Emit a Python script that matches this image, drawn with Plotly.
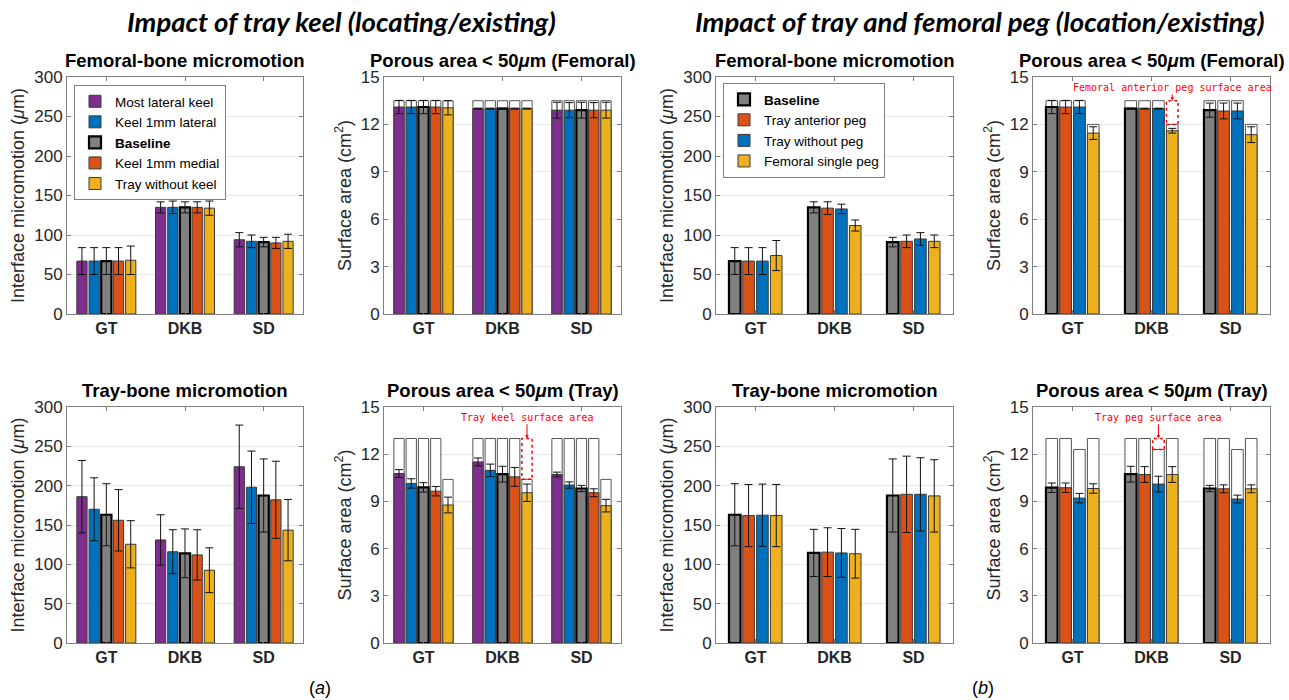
import plotly.graph_objects as go

# ---------------- data ----------------
categories = ["GT", "DKB", "SD"]

keel_names = ["Most lateral keel", "Keel 1mm lateral", "Baseline", "Keel 1mm medial", "Tray without keel"]
peg_names = ["Baseline", "Tray anterior peg", "Tray without peg", "Femoral single peg"]

# (a) tray keel - femoral-bone micromotion (um), one list per series over categories
keel_fem_micro = [[67, 135, 94], [67, 135, 92], [67, 135, 91], [67, 135, 90], [68, 134, 92]]
keel_fem_micro_err = [[17, 7, 9], [17, 8, 8], [17, 7, 6], [17, 7, 7], [18, 9, 9]]
# (a) porous area < 50um femoral (cm2)
keel_fem_area = [[13.1, 13.0, 12.9], [13.1, 13.0, 12.9], [13.1, 13.0, 12.9], [13.1, 13.0, 12.9], [13.05, 13.0, 12.9]]
keel_fem_area_err = [[0.42, 0.03, 0.5], [0.42, 0.03, 0.48], [0.42, 0.03, 0.5], [0.42, 0.03, 0.48], [0.45, 0.03, 0.5]]
keel_fem_total = [13.5, 13.5, 13.5, 13.5, 13.5]
# (a) tray-bone micromotion
keel_tray_micro = [[186, 131, 224], [170, 116, 198], [163, 114, 187.5], [156, 112, 182], [125.5, 92.5, 143.5]]
keel_tray_micro_err = [[46, 32, 53], [40, 28, 46], [39.5, 31, 46.5], [39, 32, 49], [30, 28.5, 39]]
# (a) porous area tray
keel_tray_area = [[10.77, 11.51, 10.71], [10.14, 10.97, 10.04], [9.89, 10.73, 9.82], [9.65, 10.56, 9.55], [8.77, 9.55, 8.73]]
keel_tray_area_err = [[0.25, 0.25, 0.15], [0.3, 0.4, 0.2], [0.3, 0.5, 0.2], [0.3, 0.6, 0.25], [0.5, 0.55, 0.4]]
keel_tray_total = [13.0, 13.0, 13.0, 13.0, 10.4]

# (b) pegs - femoral-bone micromotion
peg_fem_micro = [[67, 135, 91], [67, 134, 92], [67, 133, 95], [74, 112, 92]]
peg_fem_micro_err = [[17, 7, 6], [17, 8, 8], [17, 6, 8], [19, 7, 8]]
peg_fem_area = [[13.1, 13.0, 12.9], [13.1, 13.0, 12.85], [13.1, 13.0, 12.85], [11.45, 11.6, 11.35]]
peg_fem_area_err = [[0.42, 0.03, 0.45], [0.42, 0.03, 0.5], [0.42, 0.03, 0.5], [0.4, 0.15, 0.5]]
peg_fem_total = [13.5, 13.5, 13.5, 12.0]
peg_tray_micro = [[163, 114.5, 187.5], [162, 115.5, 189], [162.5, 114.5, 189], [162, 113.5, 187]]
peg_tray_micro_err = [[39.5, 30, 46.5], [39.5, 31, 48.5], [39.5, 31, 46.5], [39.5, 31, 46]]
peg_tray_area = [[9.87, 10.73, 9.82], [9.87, 10.71, 9.8], [9.21, 10.1, 9.15], [9.82, 10.71, 9.8]]
peg_tray_area_err = [[0.3, 0.5, 0.2], [0.3, 0.5, 0.25], [0.3, 0.5, 0.25], [0.3, 0.5, 0.25]]
peg_tray_total = [13.0, 13.0, 12.3, 13.0]

# ---------------- style ----------------
W, H = 1289, 700
FONT = "Liberation Sans"
PURPLE, BLUE, GRAY, ORANGE, YELLOW = "#7E2F8E", "#0072BD", "#808080", "#D95319", "#EDB120"
keel_colors = [PURPLE, BLUE, GRAY, ORANGE, YELLOW]
peg_colors = [GRAY, ORANGE, BLUE, YELLOW]
EDGE = "#3a3a3a"
AXC = "#808080"
TXT = "#262626"
BAR_FRAC = 0.84
SLOT5, SLOT4 = 0.155, 0.175

col_px = [(67, 303), (384, 621), (716, 953), (1033, 1270)]
row_px = [(77, 314), (407, 643)]

fig = go.Figure()


def ax_names(k):
    return ("x" if k == 1 else f"x{k}"), ("y" if k == 1 else f"y{k}")


def add_panel(k, names, colors, vals, errs, totals, slot, legend_name=None):
    n = len(names)
    bw = slot * BAR_FRAC
    xa, ya = ax_names(k)
    for i in range(n):
        off = (i - (n - 1) / 2) * slot - bw / 2
        base = names[i] == "Baseline"
        if totals is not None:
            fig.add_trace(go.Bar(
                x=categories, y=[totals[i]] * len(categories), width=bw, offset=off,
                marker=dict(color="white", opacity=1, line=dict(color="#555555", width=1)),
                xaxis=xa, yaxis=ya, showlegend=False, hoverinfo="skip"))
        fig.add_trace(go.Bar(
            x=categories, y=vals[i], width=bw, offset=off,
            error_y=dict(type="data", array=errs[i], color="#111111", thickness=1, width=4),
            marker=dict(color=colors[i], opacity=1,
                        line=dict(color="#000000" if base else EDGE, width=2.2 if base else 1)),
            name="<b>Baseline</b>" if base else names[i],
            showlegend=legend_name is not None,
            legend=legend_name if legend_name else "legend",
            xaxis=xa, yaxis=ya))


def add_missing(k, totals, slot, label, cat="DKB"):
    n = len(totals)
    bw = slot * BAR_FRAC
    xa, ya = ax_names(k)
    i = min(range(n), key=lambda j: totals[j])
    ci = categories.index(cat)
    xc = ci + (i - (n - 1) / 2) * slot
    top = max(totals)
    fig.add_shape(type="rect", xref=xa, yref=ya, x0=xc - bw / 2, x1=xc + bw / 2,
                  y0=totals[i], y1=top, line=dict(color="red", dash="dot", width=1.5))
    fig.add_annotation(x=xc, y=top, xref=xa, yref=ya, ax=xc, ay=14.35, axref=xa, ayref=ya,
                       text=label, showarrow=True, arrowhead=2, arrowsize=0.7, arrowwidth=1,
                       arrowcolor="red", standoff=0,
                       font=dict(family="DejaVu Sans Mono", size=10, color="red"))


add_panel(1, keel_names, keel_colors, keel_fem_micro, keel_fem_micro_err, None, SLOT5, "legend")
add_panel(2, keel_names, keel_colors, keel_fem_area, keel_fem_area_err, keel_fem_total, SLOT5)
add_panel(3, peg_names, peg_colors, peg_fem_micro, peg_fem_micro_err, None, SLOT4, "legend2")
add_panel(4, peg_names, peg_colors, peg_fem_area, peg_fem_area_err, peg_fem_total, SLOT4)
add_panel(5, keel_names, keel_colors, keel_tray_micro, keel_tray_micro_err, None, SLOT5)
add_panel(6, keel_names, keel_colors, keel_tray_area, keel_tray_area_err, keel_tray_total, SLOT5)
add_panel(7, peg_names, peg_colors, peg_tray_micro, peg_tray_micro_err, None, SLOT4)
add_panel(8, peg_names, peg_colors, peg_tray_area, peg_tray_area_err, peg_tray_total, SLOT4)

add_missing(4, peg_fem_total, SLOT4, "Femoral anterior peg surface area")
add_missing(6, keel_tray_total, SLOT5, "Tray keel surface area")
add_missing(8, peg_tray_total, SLOT4, "Tray peg surface area")

titles = ["Femoral-bone micromotion", "Porous area &lt; 50<i>μ</i>m (Femoral)",
          "Femoral-bone micromotion", "Porous area &lt; 50<i>μ</i>m (Femoral)",
          "Tray-bone micromotion", "Porous area &lt; 50<i>μ</i>m (Tray)",
          "Tray-bone micromotion", "Porous area &lt; 50<i>μ</i>m (Tray)"]

layout = dict(template="none", width=W, height=H, margin=dict(l=0, r=0, t=0, b=0, pad=0),
              autosize=False,
              paper_bgcolor="white", plot_bgcolor="white", barmode="overlay",
              font=dict(family=FONT, color=TXT), showlegend=True, hovermode="closest")

annotations = []
for k in range(1, 9):
    r = 0 if k <= 4 else 1
    c = (k - 1) % 4
    x0, x1 = col_px[c]
    y0, y1 = row_px[r]
    micro = c in (0, 2)
    xa, ya = ax_names(k)
    xkey = "xaxis" if k == 1 else f"xaxis{k}"
    ykey = "yaxis" if k == 1 else f"yaxis{k}"
    layout[xkey] = dict(domain=[x0 / W, x1 / W], anchor=ya, type="category",
                        categoryorder="array", categoryarray=categories, automargin=False,
                        range=[-0.5, 2.5], showline=True, linecolor=AXC, linewidth=1,
                        mirror="ticks", ticks="inside", ticklen=4, tickcolor=AXC,
                        showgrid=False, zeroline=False,
                        tickfont=dict(family=FONT, size=16, color=TXT, weight="bold"))
    layout[ykey] = dict(domain=[1 - y1 / H, 1 - y0 / H], anchor=xa, automargin=False,
                        range=[0, 300] if micro else [0, 15],
                        dtick=50 if micro else 3, tick0=0,
                        showline=True, linecolor=AXC, linewidth=1, mirror="ticks",
                        ticks="inside", ticklen=4, tickcolor=AXC,
                        showgrid=True, gridcolor="#e8e8e8", zeroline=False,
                        tickfont=dict(family=FONT, size=17, color=TXT),
                        title=dict(text="Interface micromotion (<i>μ</i>m)" if micro
                                   else "Surface area (cm<sup>2</sup>)",
                                   font=dict(family=FONT, size=18, color=TXT), standoff=4))
    annotations.append(dict(text="<b>" + titles[k - 1] + "</b>", xref="paper", yref="paper",
                            x=(x0 + x1) / 2 / W, y=1 - (y0 - 17) / H, xanchor="center",
                            yanchor="middle", showarrow=False,
                            font=dict(family=FONT, size=18.5, color="#000000")))

annotations += [
    dict(text="<b><i>Impact of tray keel (locating/existing)</i></b>", xref="paper", yref="paper",
         x=341 / W, y=1 - 21 / H, xanchor="center", yanchor="middle", showarrow=False,
         font=dict(family="Lato", size=27.5, color="#000000")),
    dict(text="<b><i>Impact of tray and femoral peg (location/existing)</i></b>", xref="paper",
         yref="paper", x=979 / W, y=1 - 21 / H, xanchor="center", yanchor="middle",
         showarrow=False, font=dict(family="Lato", size=27.5, color="#000000")),
    dict(text="(<i>a</i>)", xref="paper", yref="paper", x=320 / W, y=1 - 688 / H,
         xanchor="center", yanchor="middle", showarrow=False,
         font=dict(family=FONT, size=18, color="#000000")),
    dict(text="(<i>b</i>)", xref="paper", yref="paper", x=983 / W, y=1 - 688 / H,
         xanchor="center", yanchor="middle", showarrow=False,
         font=dict(family=FONT, size=18, color="#000000")),
]
layout["annotations"] = list(fig.layout.annotations) + annotations

leg = dict(bgcolor="white", bordercolor="#808080", borderwidth=1,
           font=dict(family=FONT, size=13.5, color="#000000"),
           xanchor="left", yanchor="top", tracegroupgap=0, itemwidth=30,
           traceorder="normal", itemclick=False)
layout["legend"] = dict(leg, x=74 / W, y=1 - 85 / H)
layout["legend2"] = dict(leg, x=723 / W, y=1 - 83 / H)

fig.update_layout(**layout)
fig.write_html("out.html", config={"displayModeBar": False},
               post_script="document.body.style.margin='0';")
